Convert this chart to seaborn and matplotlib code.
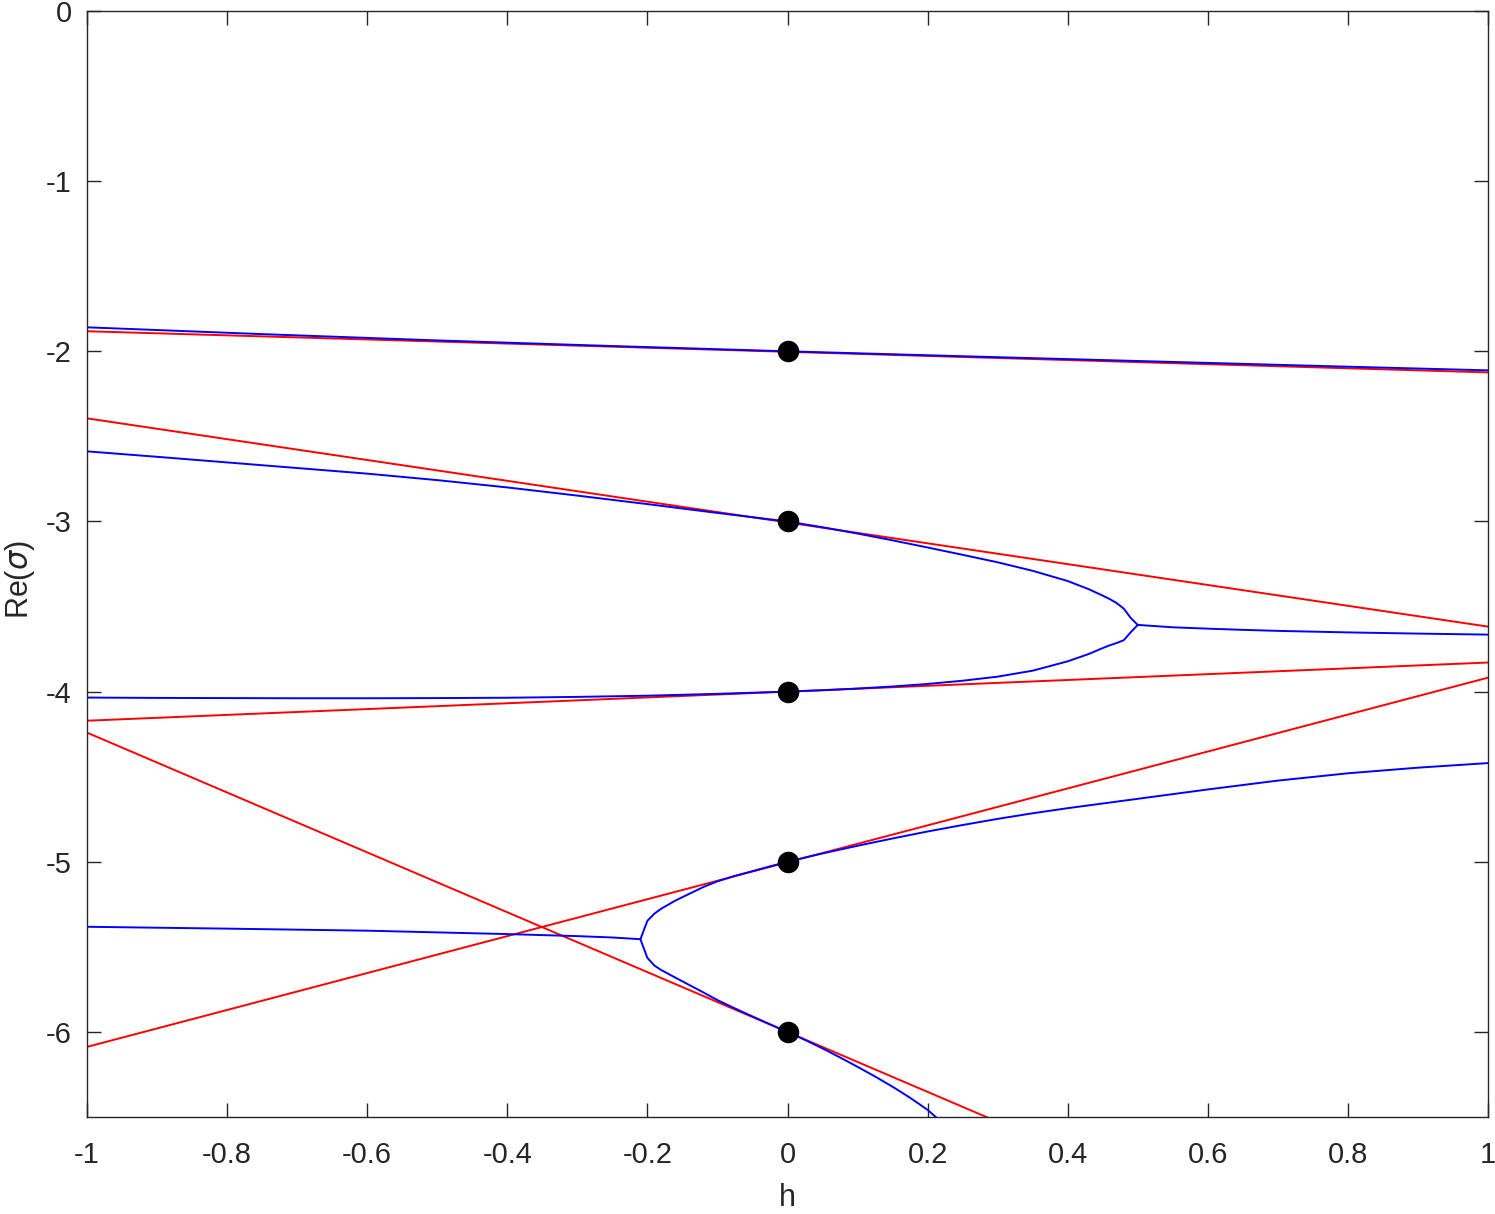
"""
Real part of the eigenvalues sigma against h, with the tangent lines at h = 0.
"""

import matplotlib
matplotlib.use("Agg")
import matplotlib.pyplot as plt
import seaborn as sns

# eigenvalues at h = 0
h0 = [0, 0, 0, 0, 0]
sigma0 = [-2, -3, -4, -5, -6]

# tangent lines (red), values at h = -1 and h = 1
red_h = [-1, 1]
red_1 = [-1.882, -2.124]
red_2 = [-2.394, -3.618]
red_3 = [-4.171, -3.829]
red_4 = [-6.088, -3.918]
red_5 = [-4.241, -7.760]

# top branch (sigma = -2)
h_top = [-1, -0.75, -0.5, -0.25, 0, 0.25, 0.5, 0.75, 1]
re_top = [-1.859, -1.899, -1.936, -1.969, -2.0, -2.029, -2.057, -2.085, -2.112]

# branches from -3 and -4 until they merge at h = 0.5
h_34 = [-1, -0.9, -0.8, -0.7, -0.6, -0.5, -0.4, -0.3, -0.2, -0.1, 0, 0.05,
        0.1, 0.15, 0.2, 0.25, 0.3, 0.35, 0.4, 0.43, 0.45, 0.46, 0.47, 0.48,
        0.49, 0.5]
re_3 = [-2.588, -2.620, -2.653, -2.686, -2.719, -2.757, -2.800, -2.848,
        -2.898, -2.950, -3.0, -3.034, -3.071, -3.111, -3.153, -3.196, -3.240,
        -3.290, -3.350, -3.398, -3.436, -3.456, -3.480, -3.512, -3.567, -3.608]
re_4 = [-4.035, -4.037, -4.038, -4.039, -4.039, -4.038, -4.036, -4.031,
        -4.024, -4.013, -4.0, -3.992, -3.982, -3.970, -3.955, -3.936, -3.912,
        -3.877, -3.822, -3.779, -3.744, -3.728, -3.714, -3.698, -3.651, -3.608]

# complex pair after merging
h_m34 = [0.5, 0.55, 0.6, 0.65, 0.7, 0.8, 0.9, 1.0]
re_m34 = [-3.608, -3.622, -3.630, -3.637, -3.643, -3.652, -3.659, -3.665]

# complex pair from -5 / -6 (left of h = -0.21)
h_m56 = [-1, -0.8, -0.6, -0.4, -0.3, -0.25, -0.21]
re_m56 = [-5.382, -5.393, -5.405, -5.425, -5.437, -5.445, -5.455]

# branch through -5
h_5 = [-0.21, -0.2, -0.19, -0.18, -0.16, -0.14, -0.12, -0.1, -0.075, -0.05,
       -0.025, 0, 0.025, 0.05, 0.1, 0.15, 0.2, 0.25, 0.3, 0.35, 0.4, 0.5, 0.6,
       0.7, 0.8, 0.9, 1.0]
re_5 = [-5.455, -5.347, -5.305, -5.275, -5.228, -5.188, -5.148, -5.115,
        -5.083, -5.055, -5.027, -5.0, -4.975, -4.951, -4.906, -4.863, -4.822,
        -4.784, -4.748, -4.715, -4.685, -4.630, -4.575, -4.523, -4.480,
        -4.447, -4.420]

# branch through -6
h_6 = [-0.21, -0.2, -0.19, -0.18, -0.15, -0.125, -0.1, -0.075, -0.05, -0.025,
       0, 0.025, 0.05, 0.075, 0.1, 0.125, 0.15, 0.175, 0.2, 0.22]
re_6 = [-5.455, -5.565, -5.610, -5.637, -5.703, -5.757, -5.813, -5.862,
        -5.909, -5.955, -6.0, -6.047, -6.097, -6.150, -6.205, -6.262, -6.322,
        -6.387, -6.458, -6.530]

x_ticks = [-1, -0.8, -0.6, -0.4, -0.2, 0, 0.2, 0.4, 0.6, 0.8, 1]
x_tick_labels = ["-1", "-0.8", "-0.6", "-0.4", "-0.2", "0", "0.2", "0.4",
                 "0.6", "0.8", "1"]
y_ticks = [-6, -5, -4, -3, -2, -1, 0]
y_tick_labels = ["-6", "-5", "-4", "-3", "-2", "-1", "0"]

sns.set_style("ticks")
plt.rcParams["font.family"] = ["Liberation Sans", "DejaVu Sans"]
plt.rcParams["mathtext.fontset"] = "dejavusans"

TXT = "#262626"
RED = "#FF0000"
BLUE = "#0000FF"
LW = 1.4

fig = plt.figure(figsize=(14.95, 12.14), dpi=100)
ax = fig.add_axes([87 / 1495, 97 / 1214, 1401 / 1495, 1106 / 1214])

for ys in (red_1, red_2, red_3, red_4, red_5):
    sns.lineplot(x=red_h, y=ys, ax=ax, color=RED, linewidth=LW,
                 sort=False, estimator=None)

blue_sets = [(h_top, re_top), (h_34, re_3), (h_34, re_4), (h_m34, re_m34),
             (h_m56, re_m56), (h_5, re_5), (h_6, re_6)]
for hx, ys in blue_sets:
    sns.lineplot(x=hx, y=ys, ax=ax, color=BLUE, linewidth=LW,
                 sort=False, estimator=None)

sns.scatterplot(x=h0, y=sigma0, ax=ax, color="black", s=240,
                edgecolor="black", linewidth=0, zorder=5)

ax.set_xlim(-1, 1)
ax.set_ylim(-6.5, 0)
ax.set_xticks(x_ticks)
ax.set_xticklabels(x_tick_labels)
ax.set_yticks(y_ticks)
ax.set_yticklabels(y_tick_labels)

ax.tick_params(direction="in", length=10, width=1.0, colors=TXT,
               labelsize=21, top=True, right=True)
ax.tick_params(axis="x", pad=17)
ax.tick_params(axis="y", pad=11)
for spine in ax.spines.values():
    spine.set_visible(True)
    spine.set_edgecolor(TXT)
    spine.set_linewidth(1.0)

ax.set_xlabel("h", fontsize=22, color=TXT, labelpad=10)
ax.set_ylabel(r"Re($\sigma$)", fontsize=22, color=TXT, labelpad=10)
ax.yaxis.set_label_coords(-0.036, 0.486)

fig.savefig("out.png", dpi=100, facecolor="white")
plt.close(fig)
